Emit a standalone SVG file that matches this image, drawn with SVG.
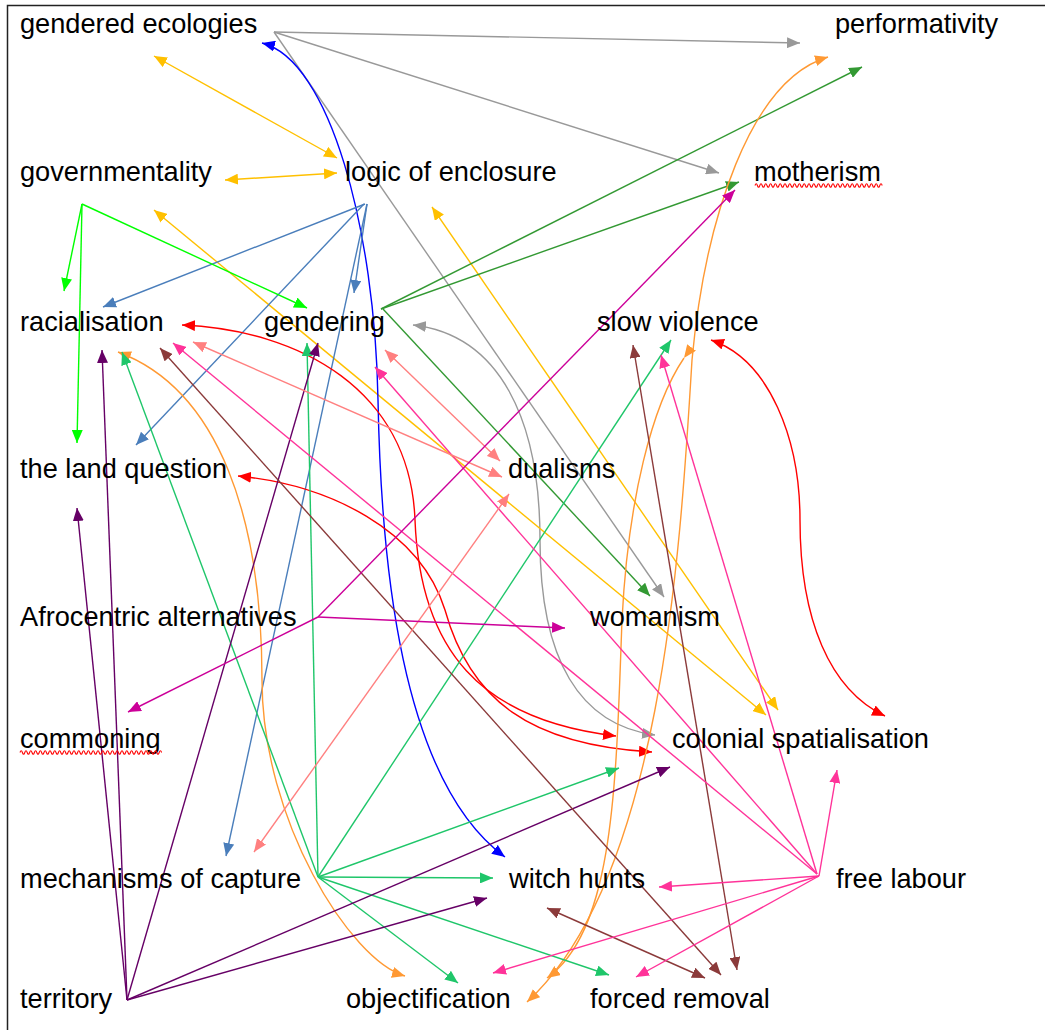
<svg xmlns="http://www.w3.org/2000/svg" width="1045" height="1030" viewBox="0 0 1045 1030">
<style>
.lbl{font-family:"Liberation Sans",Arial,Helvetica,sans-serif;font-size:27.2px;fill:#000}
.e{fill:none;stroke-width:1.4}
.sq{fill:none;stroke:#ff0000;stroke-width:1.1}
.gray{stroke:#999999}.yel{stroke:#ffc000}.blue{stroke:#0000ff}.sb{stroke:#4a7ebb}
.lg{stroke:#00ff00}.dg{stroke:#339933}.red{stroke:#ff0000}.org{stroke:#ff9933}
.mg{stroke:#1fc66a}.pur{stroke:#660066}.brn{stroke:#8b3a3a}.pk{stroke:#ff3399}
.sal{stroke:#ff8080}.mag{stroke:#cc0099}
</style>
<defs>
<marker id="a-gray" viewBox="0 0 13 11" refX="13" refY="5.5" markerWidth="13" markerHeight="11" markerUnits="userSpaceOnUse" orient="auto-start-reverse"><path d="M0,0L13,5.5L0,11z" fill="#999999"/></marker>
<marker id="a-yel" viewBox="0 0 13 11" refX="13" refY="5.5" markerWidth="13" markerHeight="11" markerUnits="userSpaceOnUse" orient="auto-start-reverse"><path d="M0,0L13,5.5L0,11z" fill="#ffc000"/></marker>
<marker id="a-blue" viewBox="0 0 13 11" refX="13" refY="5.5" markerWidth="13" markerHeight="11" markerUnits="userSpaceOnUse" orient="auto-start-reverse"><path d="M0,0L13,5.5L0,11z" fill="#0000ff"/></marker>
<marker id="a-sb" viewBox="0 0 13 11" refX="13" refY="5.5" markerWidth="13" markerHeight="11" markerUnits="userSpaceOnUse" orient="auto-start-reverse"><path d="M0,0L13,5.5L0,11z" fill="#4a7ebb"/></marker>
<marker id="a-lg" viewBox="0 0 13 11" refX="13" refY="5.5" markerWidth="13" markerHeight="11" markerUnits="userSpaceOnUse" orient="auto-start-reverse"><path d="M0,0L13,5.5L0,11z" fill="#00ff00"/></marker>
<marker id="a-dg" viewBox="0 0 13 11" refX="13" refY="5.5" markerWidth="13" markerHeight="11" markerUnits="userSpaceOnUse" orient="auto-start-reverse"><path d="M0,0L13,5.5L0,11z" fill="#339933"/></marker>
<marker id="a-red" viewBox="0 0 13 11" refX="13" refY="5.5" markerWidth="13" markerHeight="11" markerUnits="userSpaceOnUse" orient="auto-start-reverse"><path d="M0,0L13,5.5L0,11z" fill="#ff0000"/></marker>
<marker id="a-org" viewBox="0 0 13 11" refX="13" refY="5.5" markerWidth="13" markerHeight="11" markerUnits="userSpaceOnUse" orient="auto-start-reverse"><path d="M0,0L13,5.5L0,11z" fill="#ff9933"/></marker>
<marker id="a-org-sv" viewBox="0 0 13 11" refX="13" refY="5.5" markerWidth="13" markerHeight="11" markerUnits="userSpaceOnUse" orient="126"><path d="M0,0L13,5.5L0,11z" fill="#ff9933"/></marker>
<marker id="a-mg" viewBox="0 0 13 11" refX="13" refY="5.5" markerWidth="13" markerHeight="11" markerUnits="userSpaceOnUse" orient="auto-start-reverse"><path d="M0,0L13,5.5L0,11z" fill="#1fc66a"/></marker>
<marker id="a-pur" viewBox="0 0 13 11" refX="13" refY="5.5" markerWidth="13" markerHeight="11" markerUnits="userSpaceOnUse" orient="auto-start-reverse"><path d="M0,0L13,5.5L0,11z" fill="#660066"/></marker>
<marker id="a-brn" viewBox="0 0 13 11" refX="13" refY="5.5" markerWidth="13" markerHeight="11" markerUnits="userSpaceOnUse" orient="auto-start-reverse"><path d="M0,0L13,5.5L0,11z" fill="#8b3a3a"/></marker>
<marker id="a-pk" viewBox="0 0 13 11" refX="13" refY="5.5" markerWidth="13" markerHeight="11" markerUnits="userSpaceOnUse" orient="auto-start-reverse"><path d="M0,0L13,5.5L0,11z" fill="#ff3399"/></marker>
<marker id="a-sal" viewBox="0 0 13 11" refX="13" refY="5.5" markerWidth="13" markerHeight="11" markerUnits="userSpaceOnUse" orient="auto-start-reverse"><path d="M0,0L13,5.5L0,11z" fill="#ff8080"/></marker>
<marker id="a-mag" viewBox="0 0 13 11" refX="13" refY="5.5" markerWidth="13" markerHeight="11" markerUnits="userSpaceOnUse" orient="auto-start-reverse"><path d="M0,0L13,5.5L0,11z" fill="#cc0099"/></marker>
</defs>
<rect width="1045" height="1030" fill="#ffffff"/>
<path d="M7.5,1030 V5.5 H1045" fill="none" stroke="#222" stroke-width="1.5"/>

<g id="connectors">
<!-- gray -->
<path class="e gray" d="M274,32 L800,43" marker-end="url(#a-gray)"/>
<path class="e gray" d="M274,32 L719,173" marker-end="url(#a-gray)"/>
<path class="e gray" d="M274,32 L664,597" marker-end="url(#a-gray)"/>
<path class="e gray" d="M413,325 C500,335 540,420 540,540 C540,660 580,725 655,735" marker-start="url(#a-gray)" marker-end="url(#a-gray)"/>
<!-- yellow -->
<path class="e yel" d="M154,56 L337,158" marker-start="url(#a-yel)" marker-end="url(#a-yel)"/>
<path class="e yel" d="M225,180 L337,173" marker-start="url(#a-yel)" marker-end="url(#a-yel)"/>
<path class="e yel" d="M154,210 L766,715" marker-start="url(#a-yel)" marker-end="url(#a-yel)"/>
<path class="e yel" d="M432,207 L778,710" marker-start="url(#a-yel)" marker-end="url(#a-yel)"/>
<!-- blue -->
<path class="e blue" d="M262,43 C330,60 375,230 378,400 C381,560 400,780 505,857" marker-start="url(#a-blue)" marker-end="url(#a-blue)"/>
<!-- steel blue -->
<path class="e sb" d="M365,204 L103,307" marker-end="url(#a-sb)"/>
<path class="e sb" d="M367,204 L354,293" marker-end="url(#a-sb)"/>
<path class="e sb" d="M364,204 L136,445" marker-end="url(#a-sb)"/>
<path class="e sb" d="M367,204 L226,856" marker-end="url(#a-sb)"/>
<!-- light green -->
<path class="e lg" d="M82,204 L64,291" marker-end="url(#a-lg)"/>
<path class="e lg" d="M82,204 L307,308" marker-end="url(#a-lg)"/>
<path class="e lg" d="M82,204 L77,443" marker-end="url(#a-lg)"/>
<!-- dark green -->
<path class="e dg" d="M381,309 L862,67" marker-end="url(#a-dg)"/>
<path class="e dg" d="M381,309 L739,182" marker-end="url(#a-dg)"/>
<path class="e dg" d="M383,309 L650,596" marker-end="url(#a-dg)"/>
<!-- red -->
<path class="e red" d="M711,340 C770,360 800,440 800,520 C800,620 830,690 885,716" marker-start="url(#a-red)" marker-end="url(#a-red)"/>
<path class="e red" d="M182,325 C300,330 410,390 415,520 C420,650 480,720 616,736" marker-start="url(#a-red)" marker-end="url(#a-red)"/>
<path class="e red" d="M238,476 C330,485 420,530 445,610 C470,700 530,745 652,752" marker-start="url(#a-red)" marker-end="url(#a-red)"/>
<!-- orange -->
<path class="e org" d="M118,352 C220,390 262,520 262,680 C262,820 350,960 405,976" marker-start="url(#a-org)" marker-end="url(#a-org)"/>
<path class="e org" d="M828,57 C750,80 705,220 692,360 C680,560 660,880 527,1002" marker-start="url(#a-org)" marker-end="url(#a-org)"/>
<path class="e org" d="M684,358 C652,405 628,500 622,620 C616,780 615,930 547,978" marker-start="url(#a-org-sv)" marker-end="url(#a-org)"/>
<!-- medium green -->
<path class="e mg" d="M318,877 L122,352" marker-end="url(#a-mg)"/>
<path class="e mg" d="M318,877 L307,343" marker-end="url(#a-mg)"/>
<path class="e mg" d="M318,877 L671,340" marker-end="url(#a-mg)"/>
<path class="e mg" d="M318,877 L619,768" marker-end="url(#a-mg)"/>
<path class="e mg" d="M318,877 L493,878" marker-end="url(#a-mg)"/>
<path class="e mg" d="M318,877 L458,983" marker-end="url(#a-mg)"/>
<path class="e mg" d="M318,877 L609,975" marker-end="url(#a-mg)"/>
<!-- purple -->
<path class="e pur" d="M127,1000 L102,350" marker-end="url(#a-pur)"/>
<path class="e pur" d="M127,1000 L77,508" marker-end="url(#a-pur)"/>
<path class="e pur" d="M127,1000 L318,343" marker-end="url(#a-pur)"/>
<path class="e pur" d="M127,1000 L670,767" marker-end="url(#a-pur)"/>
<path class="e pur" d="M127,1000 L487,898" marker-end="url(#a-pur)"/>
<!-- brown -->
<path class="e brn" d="M160,348 L721,975" marker-start="url(#a-brn)" marker-end="url(#a-brn)"/>
<path class="e brn" d="M633,345 L737,970" marker-start="url(#a-brn)" marker-end="url(#a-brn)"/>
<path class="e brn" d="M547,908 L705,978" marker-start="url(#a-brn)" marker-end="url(#a-brn)"/>
<!-- pink -->
<path class="e pk" d="M817,874 L173,343" marker-end="url(#a-pk)"/>
<path class="e pk" d="M817,874 L375,367" marker-end="url(#a-pk)"/>
<path class="e pk" d="M817,874 L661,355" marker-end="url(#a-pk)"/>
<path class="e pk" d="M819,876 L837,770" marker-end="url(#a-pk)"/>
<path class="e pk" d="M819,876 L659,887" marker-end="url(#a-pk)"/>
<path class="e pk" d="M819,876 L493,973" marker-end="url(#a-pk)"/>
<path class="e pk" d="M819,876 L636,977" marker-end="url(#a-pk)"/>
<!-- salmon -->
<path class="e sal" d="M193,342 L502,477" marker-start="url(#a-sal)" marker-end="url(#a-sal)"/>
<path class="e sal" d="M385,350 L500,461" marker-start="url(#a-sal)" marker-end="url(#a-sal)"/>
<path class="e sal" d="M509,494 L254,852" marker-start="url(#a-sal)" marker-end="url(#a-sal)"/>
<!-- magenta -->
<path class="e mag" d="M318,617 L735,190" marker-end="url(#a-mag)"/>
<path class="e mag" d="M318,617 L565,628" marker-end="url(#a-mag)"/>
<path class="e mag" d="M318,617 L128,712" marker-end="url(#a-mag)"/>
</g>

<g id="n-gendered-ecologies"><text class="lbl" x="20" y="33">gendered ecologies</text></g>
<g id="n-performativity"><text class="lbl" x="835" y="33">performativity</text></g>
<g id="n-governmentality"><text class="lbl" x="20" y="181">governmentality</text></g>
<g id="n-logic-of-enclosure"><text class="lbl" x="345" y="181">logic of enclosure</text></g>
<g id="n-motherism"><text class="lbl" x="754" y="181">motherism</text><path class="sq" d="M755,185.5 q1.2,-3.6 2.4,0 t2.4,0 t2.4,0 t2.4,0 t2.4,0 t2.4,0 t2.4,0 t2.4,0 t2.4,0 t2.4,0 t2.4,0 t2.4,0 t2.4,0 t2.4,0 t2.4,0 t2.4,0 t2.4,0 t2.4,0 t2.4,0 t2.4,0 t2.4,0 t2.4,0 t2.4,0 t2.4,0 t2.4,0 t2.4,0 t2.4,0 t2.4,0 t2.4,0 t2.4,0 t2.4,0 t2.4,0 t2.4,0 t2.4,0 t2.4,0 t2.4,0 t2.4,0 t2.4,0 t2.4,0 t2.4,0 t2.4,0 t2.4,0 t2.4,0 t2.4,0 t2.4,0 t2.4,0 t2.4,0 t2.4,0 t2.4,0 t2.4,0 t2.4,0 t2.4,0 t2.4,0"/></g>
<g id="n-racialisation"><text class="lbl" x="20" y="331">racialisation</text></g>
<g id="n-gendering"><text class="lbl" x="264" y="331">gendering</text></g>
<g id="n-slow-violence"><text class="lbl" x="597" y="331">slow violence</text></g>
<g id="n-the-land-question"><text class="lbl" x="20" y="478">the land question</text></g>
<g id="n-dualisms"><text class="lbl" x="508" y="478">dualisms</text></g>
<g id="n-afrocentric-alternatives"><text class="lbl" x="20" y="626">Afrocentric alternatives</text></g>
<g id="n-womanism"><text class="lbl" x="590" y="626">womanism</text></g>
<g id="n-commoning"><text class="lbl" x="20" y="748">commoning</text><path class="sq" d="M20,752.5 q1.2,-3.6 2.4,0 t2.4,0 t2.4,0 t2.4,0 t2.4,0 t2.4,0 t2.4,0 t2.4,0 t2.4,0 t2.4,0 t2.4,0 t2.4,0 t2.4,0 t2.4,0 t2.4,0 t2.4,0 t2.4,0 t2.4,0 t2.4,0 t2.4,0 t2.4,0 t2.4,0 t2.4,0 t2.4,0 t2.4,0 t2.4,0 t2.4,0 t2.4,0 t2.4,0 t2.4,0 t2.4,0 t2.4,0 t2.4,0 t2.4,0 t2.4,0 t2.4,0 t2.4,0 t2.4,0 t2.4,0 t2.4,0 t2.4,0 t2.4,0 t2.4,0 t2.4,0 t2.4,0 t2.4,0 t2.4,0 t2.4,0 t2.4,0 t2.4,0 t2.4,0 t2.4,0 t2.4,0 t2.4,0 t2.4,0 t2.4,0 t2.4,0 t2.4,0 t2.4,0"/></g>
<g id="n-colonial-spatialisation"><text class="lbl" x="672" y="748">colonial spatialisation</text></g>
<g id="n-mechanisms-of-capture"><text class="lbl" x="20" y="888">mechanisms of capture</text></g>
<g id="n-witch-hunts"><text class="lbl" x="509" y="888">witch hunts</text></g>
<g id="n-free-labour"><text class="lbl" x="836" y="888">free labour</text></g>
<g id="n-territory"><text class="lbl" x="20" y="1008">territory</text></g>
<g id="n-objectification"><text class="lbl" x="346" y="1008">objectification</text></g>
<g id="n-forced-removal"><text class="lbl" x="590" y="1008">forced removal</text></g>
</svg>
